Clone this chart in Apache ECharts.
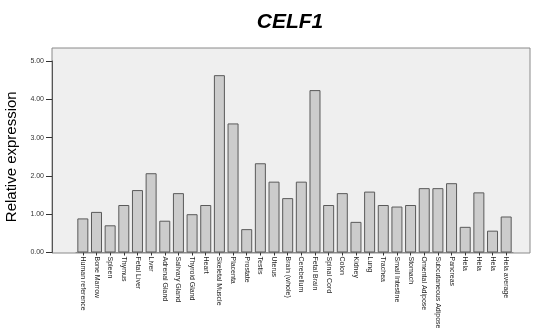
<!DOCTYPE html>
<html><head><meta charset="utf-8">
<script src="https://cdn.jsdelivr.net/npm/echarts@6/dist/echarts.min.js"></script>
<style>html,body{margin:0;padding:0;background:#fff}#c{width:539px;height:333px}</style>
</head><body><div id="c"></div>
<script>
var categories = ["Human reference","Bone Marrow","Spleen","Thymus","Fetal Liver","Liver","Adrenal Gland","Salivary Gland","Thyroid Gland","Heart","Skeletal Muscle","Placenta","Prostate","Testis","Uterus","Brain (whole)","Cerebellum","Fetal Brain","Spinal Cord","Colon","Kidney","Lung","Trachea","Small Intestine","Stomach","Omental Adipose","Subcutaneous Adipose","Pancreas","Hela","Hela","Hela","Hela average"];
var values = [0.89,1.06,0.71,1.24,1.63,2.07,0.83,1.55,1.00,1.24,4.63,3.37,0.61,2.33,1.85,1.42,1.85,4.24,1.24,1.55,0.80,1.59,1.24,1.20,1.24,1.68,1.68,1.81,0.67,1.57,0.57,0.94];
var yTicks = [0,1,2,3,4,5];

var chart = echarts.init(document.getElementById('c'), null, {renderer:'canvas'});
chart.setOption({
  animation:false,
  title:{text:'CELF1', left:285, top:7, textAlign:'center',
    textStyle:{fontFamily:'Liberation Sans, Arial', fontSize:21, fontWeight:'bold', fontStyle:'italic', color:'#000'}},
  grid:[
    {left:52, top:48, right:9, bottom:80, show:true, backgroundColor:'#efefef', borderColor:'#8a8a8a', borderWidth:1, outerBoundsMode:'none', containLabel:false},
    {left:76, top:61, right:26, bottom:80.5, outerBoundsMode:'none', containLabel:false}
  ],
  xAxis:[
    {gridIndex:0, type:'value', show:false},
    {gridIndex:1, type:'category', data:categories,
      axisLine:{show:true, lineStyle:{color:'#8a8a8a'}},
      axisTick:{show:true, alignWithLabel:true, length:3, lineStyle:{color:'#333'}},
      axisLabel:{rotate:-90, interval:0, fontSize:7, margin:4, color:'#222', fontFamily:'Liberation Sans, Arial'}}
  ],
  yAxis:[
    {gridIndex:0, type:'value', show:false},
    {gridIndex:1, type:'value', min:0, max:5, interval:1, offset:24,
      name:'Relative expression', nameLocation:'middle', nameGap:3, nameRotate:90,
      nameTextStyle:{fontFamily:'Liberation Sans, Arial', fontSize:15, color:'#000', padding:[0,0,-4,0]},
      axisLine:{show:true, lineStyle:{color:'#555'}},
      axisTick:{show:true, length:6, lineStyle:{color:'#333'}},
      splitLine:{show:false},
      axisLabel:{fontSize:7, margin:8, color:'#333', fontFamily:'Liberation Sans, Arial',
        formatter:function(v){return v.toFixed(2);}}}
  ],
  series:[{
    type:'bar', xAxisIndex:1, yAxisIndex:1, data:values, barWidth:11,
    itemStyle:{color:'#cccccc', borderColor:'#5a5a5a', borderWidth:1}
  }]
});
</script></body></html>
